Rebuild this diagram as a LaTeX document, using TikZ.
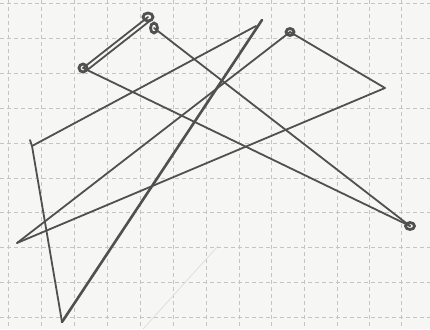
\documentclass[tikz,border=0pt]{standalone}
\usetikzlibrary{calc}
\definecolor{paper}{HTML}{F6F6F4}
\definecolor{gridc}{HTML}{C4C4C4}
\definecolor{pencil}{HTML}{505050}
\tikzset{
  gridline/.style={gridc, line width=0.8pt, dash pattern=on 4pt off 3pt},
  stroke/.style={pencil, line width=1.8pt, line cap=round},
  heavy/.style={pencil, line width=2.6pt, line cap=round},
  knot/.style={pencil, line width=2.8pt},
  faint/.style={gray!25, line width=0.8pt}
}
\begin{document}
\begin{tikzpicture}[x=1pt,y=-1pt]
\fill[paper] (0,0) rectangle (430,329);
\useasboundingbox (0,0) rectangle (430,329);
% grid
\foreach \gx in {8,41,74,107,140,173,206,239,271,304,337,369,401}
  \draw[gridline] (\gx,0) -- (\gx,329);
\foreach \gy in {3,38,73,108,143,178,212,247,282,317}
  \draw[gridline] (0,\gy) -- (430,\gy);
% points
\coordinate (A) at (148,17);
\coordinate (A2) at (154,28);
\coordinate (B) at (83,68);
\coordinate (C) at (262,20);
\coordinate (Cg) at (256,26);
\coordinate (D) at (290,32);
\coordinate (E) at (385,88);
\coordinate (F) at (410,226);
\coordinate (G) at (32,146);
\coordinate (H) at (17,243);
\coordinate (I) at (62,322);
\coordinate (P) at (143,329);
\coordinate (Q) at (218,246);
% faint erased line
\draw[faint] (P) -- (Q);
% lines
\draw[stroke] (B) -- (A);
\draw[stroke] ($(B)+(3,3)$) -- ($(A)+(3,3)$);
\draw[stroke] (A2) -- (F);
\draw[stroke] (B) -- (F);
\draw[stroke] (G) -- (I);
\draw[stroke] (G) -- (Cg);
\draw[stroke] (H) -- (D);
\draw[stroke] (H) -- (E);
\draw[stroke] (D) -- (E);
\draw[heavy] (I) -- (C);
\draw[stroke] (G) -- ++(-2,-6);
% knots
\draw[knot] (A) ellipse (5pt and 4pt);
\draw[knot] (A2) ellipse (3.5pt and 5pt);
\draw[knot] (B) ellipse (4pt and 4pt);
\draw[knot] (D) ellipse (4pt and 3.5pt);
\draw[knot] (F) ellipse (4.5pt and 3.5pt);
\end{tikzpicture}
\end{document}
